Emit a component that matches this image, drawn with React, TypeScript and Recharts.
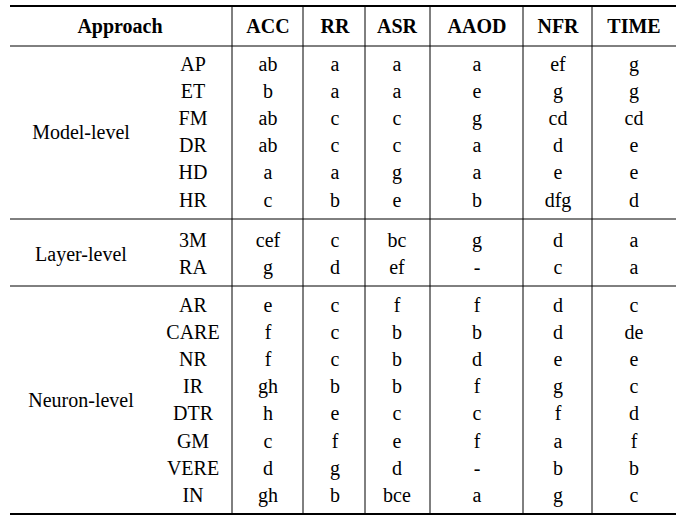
import { ScatterChart, Scatter, XAxis, YAxis, ReferenceLine } from 'recharts';

const columns = ['ACC', 'RR', 'ASR', 'AAOD', 'NFR', 'TIME'];

const modelRows = ['AP', 'ET', 'FM', 'DR', 'HD', 'HR'];
const modelCells = [
    ['ab', 'a', 'a', 'a', 'ef', 'g'],
    ['b', 'a', 'a', 'e', 'g', 'g'],
    ['ab', 'c', 'c', 'g', 'cd', 'cd'],
    ['ab', 'c', 'c', 'a', 'd', 'e'],
    ['a', 'a', 'g', 'a', 'e', 'e'],
    ['c', 'b', 'e', 'b', 'dfg', 'd'],
];
const layerRows = ['3M', 'RA'];
const layerCells = [
    ['cef', 'c', 'bc', 'g', 'd', 'a'],
    ['g', 'd', 'ef', '-', 'c', 'a'],
];
const neuronRows = ['AR', 'CARE', 'NR', 'IR', 'DTR', 'GM', 'VERE', 'IN'];
const neuronCells = [
    ['e', 'c', 'f', 'f', 'd', 'c'],
    ['f', 'c', 'b', 'b', 'd', 'de'],
    ['f', 'c', 'b', 'd', 'e', 'e'],
    ['gh', 'b', 'b', 'f', 'g', 'c'],
    ['h', 'e', 'c', 'c', 'f', 'd'],
    ['c', 'f', 'e', 'f', 'a', 'f'],
    ['d', 'g', 'd', '-', 'b', 'b'],
    ['gh', 'b', 'bce', 'a', 'g', 'c'],
];

// layout (pixels)
const W = 685;
const H = 522;
const colX = [268, 335, 397, 477, 558, 634];
const nameX = 193;
const groupX = 81;
const rowStep = 27.1;
const groupTop = [64, 240, 305];
const vLines = [232, 303, 365, 430, 523, 592];

const groups = [
    { label: 'Model-level', rows: modelRows, cells: modelCells },
    { label: 'Layer-level', rows: layerRows, cells: layerCells },
    { label: 'Neuron-level', rows: neuronRows, cells: neuronCells },
];

const points: { x: number; y: number; label: string; bold?: boolean }[] = [];
points.push({ x: 120, y: 26, label: 'Approach', bold: true });
columns.forEach((c, i) => points.push({ x: colX[i], y: 26, label: c, bold: true }));
groups.forEach((g, gi) => {
    const top = groupTop[gi];
    points.push({ x: groupX, y: top + ((g.rows.length - 1) * rowStep) / 2, label: g.label });
    g.rows.forEach((r, ri) => {
        const y = top + ri * rowStep;
        points.push({ x: nameX, y, label: r });
        g.cells[ri].forEach((v, ci) => points.push({ x: colX[ci], y, label: v }));
    });
});

const Label = (props: any) => {
    const { cx, cy, payload } = props;
    return (
        <text
            x={cx}
            y={cy}
            textAnchor="middle"
            dominantBaseline="central"
            fontFamily="'Liberation Serif', 'DejaVu Serif', serif"
            fontSize={20}
            fontWeight={payload.bold ? 'bold' : 'normal'}
            fill="#000"
        >
            {payload.label}
        </text>
    );
};

export default function App() {
    return (
        <div style={{ position: 'absolute', left: 0, top: 0, background: '#fff' }}>
            <ScatterChart width={W} height={H} margin={{ top: 0, right: 0, bottom: 0, left: 0 }}>
                <XAxis type="number" dataKey="x" domain={[0, W]} hide />
                <YAxis type="number" dataKey="y" domain={[0, H]} reversed hide />
                <ReferenceLine segment={[{ x: 10, y: 6 }, { x: 676, y: 6 }]} stroke="#000" strokeWidth={2} />
                <ReferenceLine segment={[{ x: 10, y: 46 }, { x: 676, y: 46 }]} stroke="#000" strokeWidth={1} />
                <ReferenceLine segment={[{ x: 10, y: 219 }, { x: 676, y: 219 }]} stroke="#000" strokeWidth={1} />
                <ReferenceLine segment={[{ x: 10, y: 286 }, { x: 676, y: 286 }]} stroke="#000" strokeWidth={1} />
                <ReferenceLine segment={[{ x: 10, y: 514 }, { x: 676, y: 514 }]} stroke="#000" strokeWidth={2} />
                {vLines.map((x) => (
                    <ReferenceLine key={x} segment={[{ x, y: 6 }, { x, y: 514 }]} stroke="#000" strokeWidth={1} />
                ))}
                <Scatter data={points} shape={Label} isAnimationActive={false} />
            </ScatterChart>
        </div>
    );
}
